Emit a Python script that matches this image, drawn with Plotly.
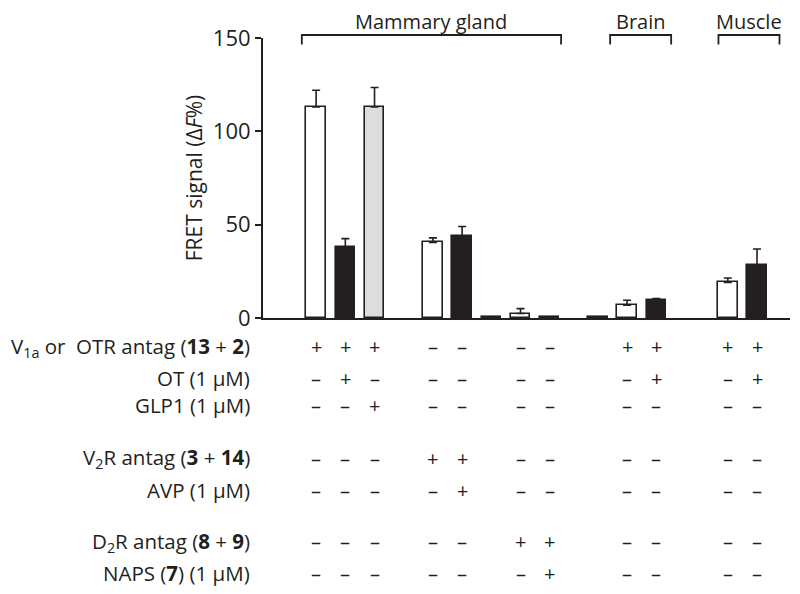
import plotly.graph_objects as go

# ---------------- data ----------------
bar_pos = [0, 1, 2, 4, 5, 6, 7, 8, 9.65, 10.65, 11.65, 14.1, 15.1]
bar_val = [113, 38, 113, 40.5, 44, 0.5, 2.4, 0.5, 0.5, 6.8, 9.5, 19.1, 28.2]
bar_err = [9, 4.5, 10.5, 2.4, 5, None, 2.6, None, None, 2.7, 0.9, 2.3, 8.8]
bar_kind = ["white", "black", "grey", "white", "black", "black", "white",
            "black", "black", "white", "black", "white", "black"]

# table columns (which bars carry a +/- column)
col_bars = [0, 1, 2, 3, 4, 6, 7, 9, 10, 11, 12]
row_labels = [
    "V<sub>1a</sub> or  OTR antag (<b>13</b> + <b>2</b>)",
    "OT (1 μM)",
    "GLP1 (1 μM)",
    "V<sub>2</sub>R antag (<b>3</b> + <b>14</b>)",
    "AVP (1 μM)",
    "D<sub>2</sub>R antag (<b>8</b> + <b>9</b>)",
    "NAPS (<b>7</b>) (1 μM)",
]
row_signs = [
    "+++----++++",
    "-+------+-+",
    "--+--------",
    "---++------",
    "----+------",
    "-----++----",
    "------+----",
]

groups = ["Mammary gland", "Brain", "Muscle"]
group_span = [(-0.49, 8.39), (10.07, 12.16), (13.78, 15.87)]

# ---------------- layout geometry ----------------
OFF = 8                      # page body margin
W, H = 792, 586
L, T = 263 - OFF, 38 - OFF
R = W - (790 - OFF)
B = H - (318 - OFF)
plot_h = H - T - B
plot_w = W - L - R
FONT = "Open Sans"
INK = "#231f20"
fills = {"white": "#ffffff", "black": "#231f20", "grey": "#dcdddf"}

def py(page_y):
    return ((H - B) - (page_y - OFF)) / plot_h

def px(page_x):
    return ((page_x - OFF) - L) / plot_w

fig = go.Figure()
for kind in ["white", "black", "grey"]:
    idx = [i for i, k in enumerate(bar_kind) if k == kind]
    xs = [bar_pos[i] for i in idx]
    ys = [bar_val[i] for i in idx]
    es = [bar_err[i] if bar_err[i] is not None else float("nan") for i in idx]
    fig.add_trace(go.Bar(
        x=xs, y=ys, width=0.67,
        marker=dict(color=fills[kind], line=dict(color=INK, width=1.6)),
        error_y=dict(type="data", symmetric=False, array=es,
                     arrayminus=[0] * len(es), color=INK, thickness=1.6, width=4),
        showlegend=False, hoverinfo="skip",
    ))

# group brackets
for name, (x0, x1) in zip(groups, group_span):
    fig.add_shape(type="path", xref="x", yref="paper",
                  path=f"M {x0} {py(44.5)} L {x0} {py(35)} L {x1} {py(35)} L {x1} {py(44.5)}",
                  line=dict(color=INK, width=1.8))
    fig.add_annotation(x=(x0 + x1) / 2, y=py(22), xref="x", yref="paper",
                       text=name, showarrow=False, yanchor="middle",
                       font=dict(family=FONT, size=20, color=INK))

# table
row_y = [346.7, 378.3, 405, 458.3, 490, 541.7, 573.3]
for r, (lab, signs) in enumerate(zip(row_labels, row_signs)):
    fig.add_annotation(x=px(252), y=py(row_y[r]), xref="paper", yref="paper",
                       text=lab, showarrow=False, xanchor="right", yanchor="middle",
                       font=dict(family=FONT, size=20.5, color=INK))
    for c, b in enumerate(col_bars):
        s = "+" if signs[c] == "+" else "–"
        fig.add_annotation(x=bar_pos[b], y=py(row_y[r]), xref="x", yref="paper",
                           text=s, showarrow=False, xanchor="center", yanchor="middle",
                           font=dict(family=FONT, size=20, color=INK))

fig.update_layout(
    width=W, height=H, margin=dict(l=L, r=R, t=T, b=B, autoexpand=False),
    plot_bgcolor="white", paper_bgcolor="white",
    barmode="overlay", bargap=0,
    font=dict(family=FONT, size=20, color=INK),
)
fig.update_xaxes(range=[-1.82, 16.23], showline=True, linecolor=INK, linewidth=2,
                 showticklabels=False, ticks="", showgrid=False, zeroline=False,
                 automargin=False)
fig.update_yaxes(range=[0, 150], tickvals=[0, 50, 100, 150], showline=True,
                 linecolor=INK, linewidth=2, ticks="outside", ticklen=6, tickwidth=2,
                 tickcolor=INK, showgrid=False, zeroline=False, automargin=False,
                 tickfont=dict(family=FONT, size=22, color=INK),
                 title=dict(text="FRET signal (Δ<i>F</i>%)", standoff=4,
                            font=dict(family=FONT, size=21, color=INK)))

fig.write_html("out.html")
